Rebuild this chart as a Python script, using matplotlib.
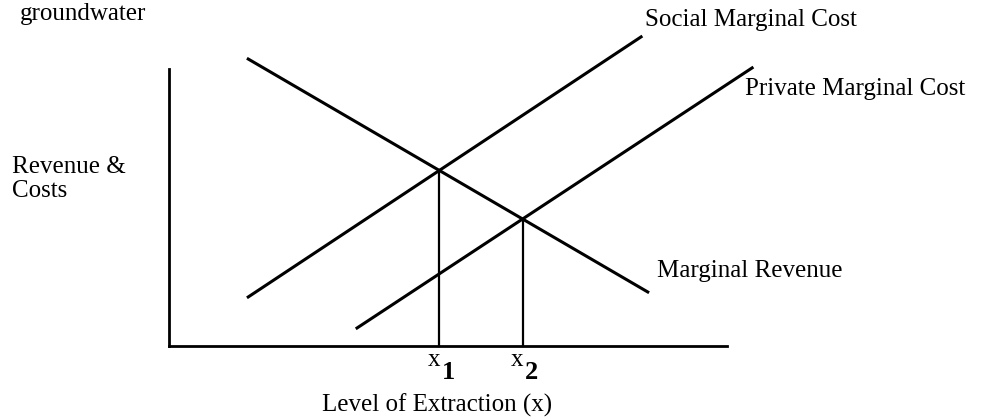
import numpy as np
import matplotlib.pyplot as plt

plt.rcParams['font.family'] = ['Liberation Serif', 'DejaVu Serif']

# Curve endpoints (chart units, axis runs 0..10 each way)
mr_x = [1.42, 8.58]
mr_y = [10.36, 1.95]
smc_x = [1.42, 8.46]
smc_y = [1.77, 11.16]
pmc_x = [3.37, 10.45]
pmc_y = [0.65, 10.04]

curve_labels = ["Marginal Revenue", "Social Marginal Cost", "Private Marginal Cost"]
tick_labels = ["1", "2"]


def line_coef(xs, ys):
    m = (ys[1] - ys[0]) / (xs[1] - xs[0])
    return m, ys[0] - m * xs[0]


def intersect(a, b):
    m1, c1 = line_coef(*a)
    m2, c2 = line_coef(*b)
    x = (c2 - c1) / (m1 - m2)
    return x, m1 * x + c1


x1, y1 = intersect((mr_x, mr_y), (smc_x, smc_y))
x2, y2 = intersect((mr_x, mr_y), (pmc_x, pmc_y))

fig = plt.figure(figsize=(9.95, 4.17), dpi=100)
ax = fig.add_axes([169 / 995, 71 / 417, 558 / 995, 277 / 417])
ax.set_xlim(0, 10)
ax.set_ylim(0, 10)
for s in ["top", "right"]:
    ax.spines[s].set_visible(False)
for s in ["left", "bottom"]:
    ax.spines[s].set_linewidth(2)
ax.set_xticks([])
ax.set_yticks([])
ax.patch.set_alpha(0)

# Curves
ax.plot(mr_x, mr_y, color="black", lw=2.2, clip_on=False)
ax.plot(smc_x, smc_y, color="black", lw=2.2, clip_on=False)
ax.plot(pmc_x, pmc_y, color="black", lw=2.2, clip_on=False)

# Drop lines to equilibria
ax.plot([x1, x1], [0, y1], color="black", lw=1.6, clip_on=False)
ax.plot([x2, x2], [0, y2], color="black", lw=1.6, clip_on=False)

fs = 18
ax.text(8.75, 2.70, curve_labels[0], fontsize=fs, va="center", ha="left")
ax.text(8.53, 11.77, curve_labels[1], fontsize=fs, va="center", ha="left")
ax.text(10.32, 9.27, curve_labels[2], fontsize=fs, va="center", ha="left")

# x1, x2 tick labels
for xv, lab in zip([x1, x2], tick_labels):
    ax.text(xv - 0.1, -0.5, "x", fontsize=18, ha="center", va="center")
    ax.text(xv + 0.16, -0.96, lab, fontsize=19, fontweight="bold",
            ha="center", va="center")

ax.text(4.8, -2.13, "Level of Extraction (x)", fontsize=fs, ha="center", va="center")
ax.text(-2.81, 6.46, "Revenue &", fontsize=fs, ha="left", va="center")
ax.text(-2.81, 5.58, "Costs", fontsize=fs, ha="left", va="center")
ax.text(-2.67, 11.98, "groundwater", fontsize=fs, ha="left", va="center")

fig.savefig("out.png", dpi=100)
